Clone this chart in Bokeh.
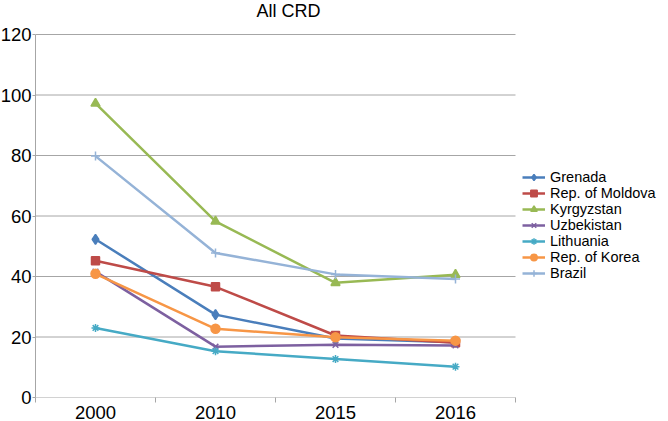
from bokeh.plotting import figure
from bokeh.models import FixedTicker, Legend, LegendItem, Label
from bokeh.embed import file_html
from bokeh.resources import INLINE

years = ["2000", "2010", "2015", "2016"]
grenada = [52.3, 27.4, 19.5, 18.3]
moldova = [45.2, 36.6, 20.5, 18.1]
kyrgyzstan = [97.2, 58.2, 37.9, 40.6]
uzbekistan = [41.6, 16.8, 17.4, 17.2]
lithuania = [23.0, 15.3, 12.7, 10.2]
korea = [40.9, 22.7, 19.9, 18.8]
brazil = [79.8, 47.8, 40.7, 39.2]
y_ticks = [0, 20, 40, 60, 80, 100, 120]
title_text = "All CRD"

series = [
    ("Grenada", grenada, "#4a7ebb", "diamond", 10),
    ("Rep. of Moldova", moldova, "#be4b48", "square", 8),
    ("Kyrgyzstan", kyrgyzstan, "#98b954", "triangle", 9),
    ("Uzbekistan", uzbekistan, "#7d60a0", "x", 8),
    ("Lithuania", lithuania, "#46aac5", "asterisk", 8),
    ("Rep. of Korea", korea, "#f79646", "circle", 9),
    ("Brazil", brazil, "#95b3d7", "cross", 9),
]

FONT = "Liberation Sans"
GRID = "#a6a6a6"

# layout: the frame spans the plot area plus the legend area on its right,
# and the title band above the 120 gridline
FRAME_W = 633          # px
FRAME_H = 397          # px
CAT_W = 120            # px per category
PX_PER_UNIT = 363 / 120
TOP_BAND = 34          # px above the 120 line
n = len(years)
x_start = -0.5
x_end = x_start + FRAME_W / CAT_W
y_top = y_ticks[-1]
y_end = y_top + TOP_BAND / PX_PER_UNIT

p = figure(width=671, height=421, x_range=(x_start, x_end), y_range=(0, y_end),
           output_backend="svg", toolbar_location=None,
           min_border_left=35, min_border_right=0, min_border_top=0, min_border_bottom=24)
p.margin = (0, 0, 0, -3)
p.outline_line_color = None

x_idx = list(range(n))

# horizontal gridlines, only over the category area
p.xgrid.grid_line_color = None
p.ygrid.grid_line_color = None
p.segment(x0=[x_start] * len(y_ticks), x1=[n - 0.5] * len(y_ticks), y0=y_ticks, y1=y_ticks,
          line_color=GRID, line_width=1)

items = []
for name, vals, color, marker, size in series:
    r1 = p.line(x_idx, vals, line_color=color, line_width=2.5)
    r2 = p.scatter(x_idx, vals, marker=marker, size=size, fill_color=color, line_color=color,
                   line_width=1.5)
    items.append(LegendItem(label=name, renderers=[r1, r2]))

yax = p.yaxis[0]
yax.ticker = FixedTicker(ticks=y_ticks)
yax.bounds = (0, y_top)
yax.axis_line_color = GRID
yax.major_tick_line_color = GRID
yax.major_tick_out = 3
yax.major_tick_in = 0
yax.minor_tick_line_color = None
yax.major_label_standoff = 1
yax.major_label_text_font = FONT
yax.major_label_text_font_size = "18.5px"
yax.major_label_text_color = "#000000"

xax = p.xaxis[0]
xax.ticker = FixedTicker(ticks=x_idx, minor_ticks=[i - 0.5 for i in range(n + 1)])
xax.major_label_overrides = {i: years[i] for i in x_idx}
xax.axis_line_color = None
xax.major_tick_line_color = None
xax.major_tick_out = 0
xax.major_tick_in = 0
xax.minor_tick_line_color = GRID
xax.minor_tick_out = 5
xax.minor_tick_in = 0
xax.major_label_standoff = 3
xax.major_label_text_font = FONT
xax.major_label_text_font_size = "18.5px"
xax.major_label_text_color = "#000000"

# chart title in the band above the plot area
title = Label(x=x_start + (288 - 35) / CAT_W, y=y_top + (TOP_BAND - 10) / PX_PER_UNIT,
              text=title_text, text_font=FONT, text_font_size="18px",
              text_color="#000000", text_align="center", text_baseline="middle")
p.add_layout(title)

lg = Legend(items=items, location=(487, 116))
lg.label_text_font = FONT
lg.label_text_font_size = "14.5px"
lg.label_text_color = "#000000"
lg.label_height = 16
lg.glyph_height = 16
lg.glyph_width = 23
lg.label_standoff = 5
lg.spacing = 0
lg.padding = 0
lg.margin = 0
lg.border_line_color = None
lg.background_fill_alpha = 0
p.add_layout(lg, "center")

open("out.html", "w").write(file_html(p, INLINE))
